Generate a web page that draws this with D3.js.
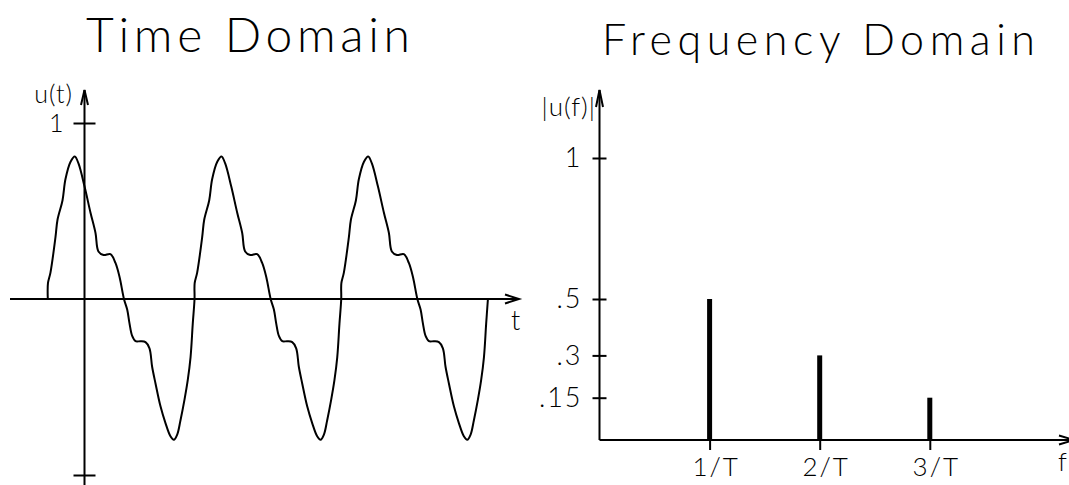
<!DOCTYPE html>
<html>
<head>
<meta charset="utf-8">
<script src="https://cdn.jsdelivr.net/npm/d3@7"></script>
<style>
  body { margin: 0; background: #fff; }
  svg text { font-family: Lato, "DejaVu Sans", sans-serif; font-weight: 300; fill: #000; }
</style>
</head>
<body>
<div class="chart"></div>
<script>
// time domain: u(t), t in periods T
var wavePeriod1 = [[-0.250, 0.00], [-0.249, 0.09], [-0.232, 0.15], [-0.198, 0.35], [-0.184, 0.45], [-0.150, 0.56],
  [-0.130, 0.68], [-0.095, 0.78], [-0.066, 0.81], [-0.041, 0.77], [0.000, 0.64], [0.041, 0.49], [0.075, 0.375],
  [0.095, 0.27], [0.130, 0.25], [0.177, 0.255], [0.211, 0.205], [0.239, 0.125], [0.269, 0.00], [0.291, -0.06],
  [0.307, -0.14], [0.325, -0.21], [0.348, -0.24], [0.382, -0.24], [0.416, -0.245], [0.443, -0.28], [0.461, -0.385],
  [0.484, -0.48], [0.518, -0.61], [0.552, -0.705], [0.586, -0.78], [0.609, -0.80], [0.632, -0.77], [0.654, -0.69],
  [0.682, -0.57], [0.704, -0.46], [0.723, -0.33], [0.738, -0.14], [0.750, 0.00]]
var wavePeriod2 = [[0.751, 0.09], [0.768, 0.15], [0.802, 0.35], [0.816, 0.45], [0.850, 0.56],
  [0.870, 0.68], [0.905, 0.78], [0.934, 0.81], [0.959, 0.77], [1.000, 0.64], [1.041, 0.49], [1.075, 0.375],
  [1.095, 0.27], [1.130, 0.25], [1.177, 0.255], [1.211, 0.205], [1.239, 0.125], [1.269, 0.00], [1.291, -0.06],
  [1.307, -0.14], [1.325, -0.21], [1.348, -0.24], [1.382, -0.24], [1.416, -0.245], [1.443, -0.28], [1.461, -0.385],
  [1.484, -0.48], [1.518, -0.61], [1.552, -0.705], [1.586, -0.78], [1.609, -0.80], [1.632, -0.77], [1.654, -0.69],
  [1.682, -0.57], [1.704, -0.46], [1.723, -0.33], [1.738, -0.14], [1.750, 0.00]]
var wavePeriod3 = [[1.751, 0.09], [1.768, 0.15], [1.802, 0.35], [1.816, 0.45], [1.850, 0.56],
  [1.870, 0.68], [1.905, 0.78], [1.934, 0.81], [1.959, 0.77], [2.000, 0.64], [2.041, 0.49], [2.075, 0.375],
  [2.095, 0.27], [2.130, 0.25], [2.177, 0.255], [2.211, 0.205], [2.239, 0.125], [2.269, 0.00], [2.291, -0.06],
  [2.307, -0.14], [2.325, -0.21], [2.348, -0.24], [2.382, -0.24], [2.416, -0.245], [2.443, -0.28], [2.461, -0.385],
  [2.484, -0.48], [2.518, -0.61], [2.552, -0.705], [2.586, -0.78], [2.609, -0.80], [2.632, -0.77], [2.654, -0.69],
  [2.682, -0.57], [2.704, -0.46], [2.723, -0.33], [2.738, -0.14], [2.750, 0.00]]
var timeTicks = [-1, 1]
var timeTickLabels = ["", "1"]

// frequency domain: |u(f)|
var harmonics = [1, 2, 3]
var amplitudes = [0.5, 0.3, 0.15]
var harmonicLabels = ["1/T", "2/T", "3/T"]
var ampTicks = [0.15, 0.3, 0.5, 1]
var ampTickLabels = [".15", ".3", ".5", "1"]

var svg = d3.select(".chart").append("svg").attr("width", 1069).attr("height", 485)
svg.append("rect").attr("width", 1069).attr("height", 485).attr("fill", "#fff")

var ink = "#000"

// ---------- left: time domain ----------
var xT = d3.scaleLinear().domain([0, 1]).range([84.5, 231.2])
var yU = d3.scaleLinear().domain([-1, 1]).range([475, 123])

svg.append("text").attr("x", 86).attr("y", 52).text("Time Domain")
  .style("font-size", "48px").attr("textLength", 324).attr("lengthAdjust", "spacing")

// axes lines with open arrowheads
var x0 = xT(0), y0 = yU(0)
svg.append("line").attr("x1", 10).attr("x2", 519).attr("y1", y0).attr("y2", y0)
  .attr("stroke", ink).attr("stroke-width", 2)
svg.append("path").attr("d", "M505," + (y0 - 4.5) + "L519," + y0 + "L505," + (y0 + 4.5))
  .attr("fill", "none").attr("stroke", ink).attr("stroke-width", 2)
svg.append("line").attr("x1", x0).attr("x2", x0).attr("y1", 90).attr("y2", 485)
  .attr("stroke", ink).attr("stroke-width", 2)
svg.append("path").attr("d", "M" + (x0 - 3.5) + ",105L" + x0 + ",90L" + (x0 + 3.5) + ",105")
  .attr("fill", "none").attr("stroke", ink).attr("stroke-width", 2)

// crossing ticks on the u axis
var leftAx = svg.append("g").attr("transform", "translate(" + x0 + ",0)")
  .call(d3.axisLeft(yU).tickValues(timeTicks).tickSize(11).tickPadding(10)
    .tickFormat((d, i) => timeTickLabels[i]))
var leftAx2 = svg.append("g").attr("transform", "translate(" + x0 + ",0)")
  .call(d3.axisRight(yU).tickValues(timeTicks).tickSize(11).tickFormat(""))
;[leftAx, leftAx2].forEach(g => {
  g.select(".domain").remove()
  g.selectAll("line").attr("stroke", ink).attr("stroke-width", 2)
})
leftAx.selectAll("text").style("font-size", "25px").attr("font-family", null).attr("fill", ink)

svg.append("text").attr("x", 73).attr("y", 103).attr("text-anchor", "end").text("u(t)")
  .style("font-size", "25px").style("letter-spacing", "1px")
svg.append("text").attr("x", 511).attr("y", 330).text("t").style("font-size", "27px")

var waveform = wavePeriod1.concat(wavePeriod2, wavePeriod3)
var line = d3.line().x(d => xT(d[0])).y(d => yU(d[1])).curve(d3.curveCatmullRom.alpha(0.5))
svg.append("path").datum(waveform).attr("d", line)
  .attr("fill", "none").attr("stroke", ink).attr("stroke-width", 2).attr("stroke-linejoin", "round")

// ---------- right: frequency domain ----------
var xF = d3.scaleLinear().domain([0, 1]).range([599.5, 709.6])
var yF = d3.scaleLinear().domain([0, 1]).range([440, 158])

svg.append("text").attr("x", 602).attr("y", 55).text("Frequency Domain")
  .style("font-size", "43px").attr("textLength", 433).attr("lengthAdjust", "spacing")

var fx0 = xF(0), fy0 = yF(0)
svg.append("line").attr("x1", fx0).attr("x2", fx0).attr("y1", 90).attr("y2", fy0)
  .attr("stroke", ink).attr("stroke-width", 2)
svg.append("path").attr("d", "M" + (fx0 - 3.5) + ",107L" + fx0 + ",90L" + (fx0 + 3.5) + ",107")
  .attr("fill", "none").attr("stroke", ink).attr("stroke-width", 2)
svg.append("line").attr("x1", fx0).attr("x2", 1074).attr("y1", fy0).attr("y2", fy0)
  .attr("stroke", ink).attr("stroke-width", 2)
svg.append("path").attr("d", "M1059," + (fy0 - 4.5) + "L1074," + fy0 + "L1059," + (fy0 + 4.5))
  .attr("fill", "none").attr("stroke", ink).attr("stroke-width", 2)

var ampAx = svg.append("g").attr("transform", "translate(" + fx0 + ",0)")
  .call(d3.axisLeft(yF).tickValues(ampTicks).tickSize(7).tickPadding(10)
    .tickFormat((d, i) => ampTickLabels[i]))
var ampAx2 = svg.append("g").attr("transform", "translate(" + fx0 + ",0)")
  .call(d3.axisRight(yF).tickValues(ampTicks).tickSize(7).tickFormat(""))
var freqAx = svg.append("g").attr("transform", "translate(0," + fy0 + ")")
  .call(d3.axisBottom(xF).tickValues(harmonics).tickSize(10).tickPadding(8)
    .tickFormat((d, i) => harmonicLabels[i]))
;[ampAx, ampAx2, freqAx].forEach(g => {
  g.select(".domain").remove()
  g.selectAll("line").attr("stroke", ink).attr("stroke-width", 2)
})
ampAx.selectAll("text").style("font-size", "27px").style("letter-spacing", "2px")
  .attr("font-family", null).attr("fill", ink)
freqAx.selectAll("text").style("font-size", "26px").style("letter-spacing", "2px")
  .attr("font-family", null).attr("fill", ink).attr("dx", 6)

svg.selectAll("rect.spike")
  .data(harmonics)
  .enter()
  .append("rect")
  .attr("class", "spike")
  .attr("x", d => xF(d) - 2.5)
  .attr("width", 5)
  .attr("y", (d, i) => yF(amplitudes[i]))
  .attr("height", (d, i) => fy0 - yF(amplitudes[i]))
  .attr("fill", ink)

svg.append("text").attr("x", 596).attr("y", 116).attr("text-anchor", "end").text("|u(f)|")
  .style("font-size", "26px").style("letter-spacing", "1px")
svg.append("text").attr("x", 1058).attr("y", 471).text("f").style("font-size", "26px")
</script>
</body>
</html>
